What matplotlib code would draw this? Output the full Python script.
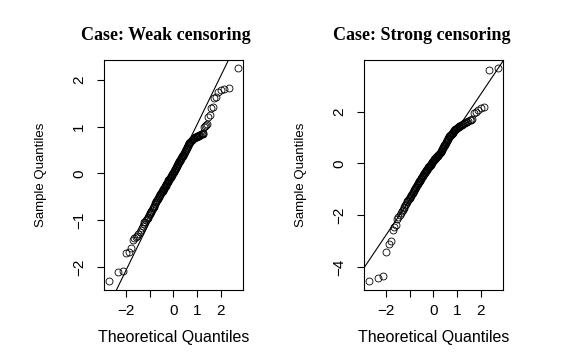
import matplotlib
matplotlib.use("Agg")
import matplotlib.pyplot as plt
import numpy as np
from statistics import NormalDist

# Wartosci (posortowane kwantyle z proby, n = 150)
slabe = [
    -2.31, -2.10, -2.08, -1.71, -1.67, -1.60, -1.42, -1.39, -1.36, -1.33,
    -1.29, -1.26, -1.22, -1.17, -1.13, -1.09, -1.05, -1.03, -1.00, -0.98,
    -0.95, -0.93, -0.90, -0.87, -0.85, -0.82, -0.80, -0.78, -0.75, -0.73,
    -0.71, -0.69, -0.66, -0.64, -0.62, -0.60, -0.58, -0.56, -0.54, -0.52,
    -0.50, -0.48, -0.46, -0.45, -0.43, -0.41, -0.40, -0.38, -0.37, -0.35,
    -0.34, -0.33, -0.31, -0.29, -0.27, -0.26, -0.24, -0.23, -0.21, -0.20,
    -0.18, -0.17, -0.15, -0.14, -0.12, -0.11, -0.10, -0.08, -0.07, -0.05,
    -0.04, -0.03, -0.01, 0.00, 0.01, 0.03, 0.04, 0.06, 0.08, 0.09,
    0.11, 0.12, 0.14, 0.15, 0.17, 0.19, 0.21, 0.22, 0.24, 0.26,
    0.27, 0.29, 0.30, 0.32, 0.33, 0.34, 0.36, 0.37, 0.39, 0.40,
    0.42, 0.44, 0.46, 0.48, 0.50, 0.52, 0.54, 0.56, 0.58, 0.60,
    0.62, 0.64, 0.65, 0.67, 0.68, 0.70, 0.71, 0.72, 0.73, 0.74,
    0.75, 0.76, 0.77, 0.77, 0.78, 0.78, 0.79, 0.80, 0.80, 0.81,
    0.82, 0.83, 0.84, 0.85, 0.86, 0.99, 1.01, 1.03, 1.06, 1.21,
    1.24, 1.40, 1.42, 1.60, 1.64, 1.74, 1.78, 1.81, 1.83, 2.24,
]

silne = [
    -4.55, -4.42, -4.33, -3.40, -3.10, -3.00, -2.58, -2.46, -2.38, -2.15,
    -2.05, -1.97, -1.90, -1.84, -1.78, -1.72, -1.66, -1.60, -1.55, -1.50,
    -1.45, -1.41, -1.37, -1.32, -1.28, -1.24, -1.20, -1.16, -1.13, -1.09,
    -1.06, -1.02, -0.99, -0.95, -0.92, -0.89, -0.85, -0.82, -0.78, -0.75,
    -0.72, -0.69, -0.66, -0.63, -0.60, -0.57, -0.54, -0.51, -0.48, -0.46,
    -0.43, -0.40, -0.38, -0.35, -0.33, -0.30, -0.28, -0.26, -0.24, -0.21,
    -0.19, -0.17, -0.15, -0.13, -0.11, -0.09, -0.07, -0.05, -0.03, -0.01,
    0.02, 0.04, 0.06, 0.08, 0.10, 0.12, 0.14, 0.16, 0.18, 0.20,
    0.22, 0.24, 0.25, 0.27, 0.29, 0.30, 0.32, 0.34, 0.36, 0.37,
    0.39, 0.41, 0.44, 0.46, 0.49, 0.52, 0.55, 0.58, 0.61, 0.64,
    0.67, 0.70, 0.73, 0.76, 0.79, 0.82, 0.86, 0.89, 0.93, 0.96,
    0.99, 1.01, 1.04, 1.06, 1.09, 1.11, 1.14, 1.17, 1.19, 1.22,
    1.25, 1.27, 1.29, 1.31, 1.33, 1.35, 1.37, 1.39, 1.41, 1.43,
    1.45, 1.47, 1.49, 1.51, 1.53, 1.55, 1.56, 1.58, 1.60, 1.62,
    1.66, 1.69, 1.73, 1.93, 1.98, 2.06, 2.12, 2.18, 3.62, 3.66,
]

# Linie odniesienia (wyraz wolny, nachylenie)
linia_slabe = (0.01, 1.04)
linia_silne = (-0.04, 1.36)

tytuly = ["Case: Weak censoring", "Case: Strong censoring"]
yticks_slabe = [-2, -1, 0, 1, 2]
yticks_silne = [-4, -2, 0, 2]
xticks = [-2, -1, 0, 1, 2]
xtick_labels = ["\u22122", "", "0", "1", "2"]


def kwantyle_teoretyczne(n):
    # ppoints(n) jak w R (a = 0.5 dla n > 10)
    nd = NormalDist()
    return np.array([nd.inv_cdf((i - 0.5) / n) for i in range(1, n + 1)])


def panel(ax, proba, linia, yticks):
    y = np.array(proba)
    x = kwantyle_teoretyczne(len(y))
    ax.plot(x, y, "o", mfc="none", mec="black", ms=5, mew=0.6)
    ax.axline((0, linia[0]), slope=linia[1], color="black", lw=0.8)
    ax.margins(x=0.04, y=0.04)
    ax.set_xticks(xticks)
    ax.set_xticklabels(xtick_labels)
    ax.set_yticks(yticks)
    ax.set_yticklabels([str(t).replace("-", "\u2212") for t in yticks],
                       rotation=90, va="center")
    ax.tick_params(direction="out", length=5, width=0.8, labelsize=11)
    ax.tick_params(axis="x", pad=5)
    ax.tick_params(axis="y", pad=8)
    for s in ax.spines.values():
        s.set_linewidth(0.8)
    ax.set_xlabel("Theoretical Quantiles", fontsize=11.5, labelpad=9)
    ax.set_ylabel("Sample Quantiles", fontsize=9.5, labelpad=18)


plt.rcParams["font.family"] = ["Liberation Sans", "DejaVu Sans"]
fig = plt.figure(figsize=(5.63, 3.53), dpi=100)
ax1 = fig.add_axes([0.1847, 0.1785, 0.2469, 0.6516])
ax2 = fig.add_axes([0.6465, 0.1785, 0.2469, 0.6516])

panel(ax1, slabe, linia_slabe, yticks_slabe)
panel(ax2, silne, linia_silne, yticks_silne)

fig.text(166 / 563, 1 - 35 / 353, tytuly[0], ha="center", va="center",
         fontsize=13, fontweight="bold", family="Liberation Serif")
fig.text(422 / 563, 1 - 35 / 353, tytuly[1], ha="center", va="center",
         fontsize=13, fontweight="bold", family="Liberation Serif")

fig.savefig("out.png", dpi=100)
plt.close(fig)
